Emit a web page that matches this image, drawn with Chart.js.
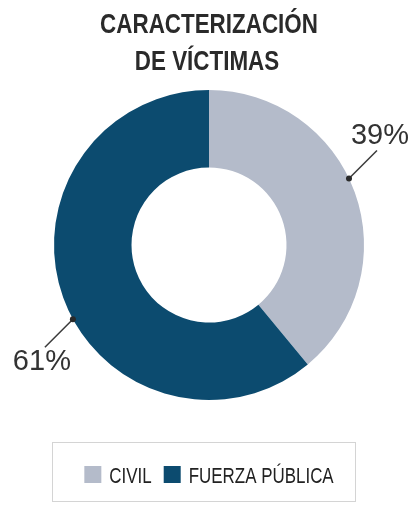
<!DOCTYPE html>
<html lang="es">
<head>
<meta charset="utf-8">
<title>Caracterización de víctimas</title>
<script src="https://cdn.jsdelivr.net/npm/chart.js@4/dist/chart.umd.min.js"></script>
<style>
  html, body { margin: 0; padding: 0; background: #fff; }
  #wrap { width: 417px; height: 506px; position: relative; }
</style>
</head>
<body>
<div id="wrap"><canvas id="chart" width="417" height="506"></canvas></div>
<script>
// datos del gráfico
const categorias = ['CIVIL', 'FUERZA PÚBLICA'];
const porcentajes = [39, 61];
const colores = ['#b4bbca', '#0c4b6f'];
const tituloLineas = ['CARACTERIZACIÓN', 'DE VÍCTIMAS'];

// texto comprimido horizontalmente (tipografía condensada)
function textoCondensado(ctx, texto, x, y, escala, align) {
  const w = ctx.measureText(texto).width * escala;
  let x0 = x;
  if (align === 'center') x0 = x - w / 2;
  ctx.save();
  ctx.translate(x0, y);
  ctx.scale(escala, 1);
  ctx.textAlign = 'left';
  ctx.fillText(texto, 0, 0);
  ctx.restore();
  return w;
}

// título en dos líneas
const tituloPlugin = {
  id: 'titulo',
  afterDraw(chart) {
    const ctx = chart.ctx;
    const cx = (chart.chartArea.left + chart.chartArea.right) / 2;
    ctx.save();
    ctx.fillStyle = '#2a2a2a';
    ctx.font = 'bold 28px "Liberation Sans", Arial, sans-serif';
    ctx.textBaseline = 'alphabetic';
    textoCondensado(ctx, tituloLineas[0], cx, 33, 0.8, 'center');
    textoCondensado(ctx, tituloLineas[1], cx - 2, 70, 0.8, 'center');
    ctx.restore();
  }
};

// etiquetas de porcentaje con línea guía
const etiquetasPlugin = {
  id: 'etiquetas',
  afterDatasetsDraw(chart) {
    const ctx = chart.ctx;
    const meta = chart.getDatasetMeta(0);
    const valores = chart.data.datasets[0].data;
    ctx.save();
    meta.data.forEach((arc, i) => {
      const p = arc.getProps(['x', 'y', 'startAngle', 'endAngle', 'outerRadius'], true);
      const ang = p.startAngle + (p.endAngle - p.startAngle) * 0.46;
      const px = p.x + Math.cos(ang) * p.outerRadius;
      const py = p.y + Math.sin(ang) * p.outerRadius;
      const dx = px >= p.x ? 1 : -1;
      const dy = py >= p.y ? 1 : -1;
      const ex = px + dx * 28;
      const ey = py + dy * 28;

      ctx.strokeStyle = '#3a3a3a';
      ctx.lineWidth = 1.5;
      ctx.beginPath();
      ctx.moveTo(px, py);
      ctx.lineTo(ex, ey);
      ctx.stroke();

      ctx.fillStyle = '#2a2a2a';
      ctx.beginPath();
      ctx.arc(px, py, 3, 0, Math.PI * 2);
      ctx.fill();

      ctx.font = '29px "Liberation Sans", Arial, sans-serif';
      ctx.fillStyle = '#333';
      ctx.textAlign = 'center';
      ctx.textBaseline = 'alphabetic';
      const ty = dy < 0 ? ey - 6 : ey + 23;
      ctx.fillText(valores[i] + '%', ex + dx * 3, ty);
    });
    ctx.restore();
  }
};

// leyenda con recuadro
const leyendaPlugin = {
  id: 'leyenda',
  afterDraw(chart) {
    const ctx = chart.ctx;
    const etiquetas = chart.data.labels;
    const fondo = chart.data.datasets[0].backgroundColor;
    const escala = 0.77;
    const caja = 17;
    ctx.save();

    ctx.strokeStyle = '#d4d4d4';
    ctx.lineWidth = 1;
    ctx.strokeRect(52.5, 442.5, 303, 59);

    ctx.font = '22px "Liberation Sans", Arial, sans-serif';
    const anchos = etiquetas.map(t => ctx.measureText(t).width * escala);
    const total = anchos.reduce((a, b) => a + b, 0) + etiquetas.length * (caja + 8) + (etiquetas.length - 1) * 12;
    let x = 209 - total / 2;
    etiquetas.forEach((t, i) => {
      ctx.fillStyle = fondo[i];
      ctx.fillRect(x, 466, caja, caja);
      x += caja + 8;
      ctx.fillStyle = '#222';
      ctx.textBaseline = 'alphabetic';
      textoCondensado(ctx, t, x, 483, escala, 'left');
      x += anchos[i] + 12;
    });
    ctx.restore();
  }
};

new Chart(document.getElementById('chart'), {
  type: 'doughnut',
  data: {
    labels: categorias,
    datasets: [{
      data: porcentajes,
      backgroundColor: colores,
      borderWidth: 0,
      hoverOffset: 0
    }]
  },
  options: {
    responsive: false,
    animation: false,
    cutout: '50%',
    layout: {
      padding: { top: 90, bottom: 106, left: 53, right: 52 }
    },
    plugins: {
      legend: { display: false },
      title: { display: false },
      tooltip: { enabled: false }
    }
  },
  plugins: [tituloPlugin, etiquetasPlugin, leyendaPlugin]
});
</script>
</body>
</html>
